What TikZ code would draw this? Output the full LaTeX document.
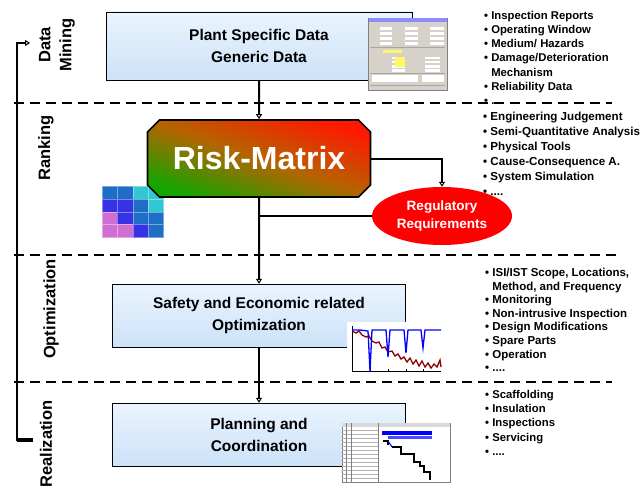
\documentclass[tikz,border=0pt]{standalone}
\usepackage{fontspec}
\setmainfont{Liberation Sans}
\usetikzlibrary{shapes, arrows.meta}

\definecolor{boxtop}{RGB}{234,244,254}
\definecolor{boxbottom}{RGB}{204,226,248}
\definecolor{riskgreen}{RGB}{20,165,0}
\definecolor{riskbrown}{RGB}{180,100,0}
\definecolor{riskred}{RGB}{255,25,0}
\definecolor{cellblue}{RGB}{30,110,200}
\definecolor{cellviolet}{RGB}{55,50,230}
\definecolor{cellcyan}{RGB}{50,200,210}
\definecolor{cellpink}{RGB}{210,110,210}
\definecolor{wingrey}{RGB}{214,210,202}
\definecolor{trendred}{RGB}{140,0,0}

\begin{document}
\begin{tikzpicture}[x=1pt, y=-1pt]

\tikzstyle{stage} = [rectangle, draw, thin, text centered, align=center, top color=boxtop, bottom color=boxbottom, font=\fontsize{15.5}{22}\selectfont\bfseries]
\tikzstyle{phase} = [rotate=90, align=center, inner sep=0pt, font=\fontsize{16.5}{21}\selectfont\bfseries]
\tikzstyle{bullets} = [anchor=north west, inner sep=0pt, align=left]
\tikzstyle{wire} = [line width=2pt]
\tikzstyle{arrow} = [line width=2pt, -{Triangle[open, length=5pt, width=6pt, line width=1pt]}]
\tikzstyle{divider} = [line width=1.6pt, dash pattern=on 10pt off 6pt]

\useasboundingbox [fill=white] (0,0) rectangle (642,487);

% small risk matrix, partly hidden behind the main box
\foreach \row/\cells in {0/{cellblue,cellblue,cellcyan,cellcyan}, 1/{cellviolet,cellviolet,cellblue,cellcyan}, 2/{cellpink,cellviolet,cellblue,cellblue}, 3/{cellpink,cellpink,cellviolet,cellblue}}
  \foreach \c [count=\k from 0] in \cells
    \filldraw [fill=\c, draw=\c!60!white, very thin] (102+\k*15.3, 186+\row*12.8) rectangle ++(15.3,12.8);

% phase labels and the loop bracket
\node (mining) [phase] at (57,45) {Data\\Mining};
\node (ranking) [phase] at (46,148) {Ranking};
\node (optim) [phase] at (51,309) {Optimization};
\node (realiz) [phase] at (46,444) {Realization};

\coordinate (loopstart) at (33,440);
\coordinate (loopend) at (30,43);
\draw [line width=2.5pt, -{Triangle[open, length=5pt, width=6pt, line width=1pt]}] (loopstart) -- (17,440) -- (17,43) -- (loopend);
\draw [line width=4pt] (17,440) -- (loopstart);

% bullet lists
\node (datalist) [bullets, font=\fontsize{11.3}{14.2}\selectfont\bfseries] at (484,11) {• Inspection Reports\\• Operating Window\\• Medium/ Hazards\\• Damage/Deterioration\\\phantom{• }Mechanism\\• Reliability Data\\• ....};
\node (ranklist) [bullets, font=\fontsize{11.6}{15}\selectfont\bfseries] at (483,112) {• Engineering Judgement\\• Semi-Quantitative Analysis\\• Physical Tools\\• Cause-Consequence A.\\• System Simulation\\• ....};
\node (optlist) [bullets, font=\fontsize{11.5}{13.6}\selectfont\bfseries] at (485,268) {• ISI/IST Scope, Locations,\\\phantom{• }Method, and Frequency\\• Monitoring\\• Non-intrusive Inspection\\• Design Modifications\\• Spare Parts\\• Operation\\• ....};
\node (reallist) [bullets, font=\fontsize{11.3}{14.3}\selectfont\bfseries] at (485,390) {• Scaffolding\\• Insulation\\• Inspections\\• Servicing\\• ....};

\draw [divider] (14,103) -- (612,103);
\draw [divider] (14,255) -- (617,255);
\draw [divider] (14,382) -- (612,382);

% main flow
\node (plant) [stage, minimum width=306, minimum height=68] at (259,46) {Plant Specific Data\\Generic Data};

\node (risk) [chamfered rectangle, chamfered rectangle xsep=6pt, chamfered rectangle ysep=6pt, draw, line width=1.6pt, minimum width=223, minimum height=77, top color=riskred, bottom color=riskgreen, middle color=riskbrown, shading angle=-19, text=white, font=\fontsize{32}{36}\selectfont\bfseries] at (259,158.5) {Risk-Matrix};

\node (reg) [ellipse, fill=red, text=white, inner sep=1pt, minimum width=140, minimum height=58, align=center, font=\fontsize{13.5}{18}\selectfont\bfseries] at (442,216) {Regulatory\\Requirements};

\node (safety) [stage, minimum width=293, minimum height=63] at (259,315.5) {Safety and Economic related\\Optimization};

\node (planning) [stage, minimum width=293, minimum height=63] at (259,434.5) {Planning and\\Coordination};

\draw [arrow] (plant) -- (risk);
\draw [arrow] (risk.east) -| (reg.north);
\draw [wire] (reg.west) -- (reg.west -| risk.south);
\draw [arrow] (risk) -- (safety);
\draw [arrow] (safety) -- (planning);

% data form window
\filldraw [fill=wingrey, draw=gray] (368,18) rectangle (447,90);
\fill [blue!45!white] (368.5,18.5) rectangle (446.5,22);
\foreach \y in {27,32,37,42} {
  \fill [white] (380,\y) rectangle (392,\y+3);
  \fill [white] (405,\y) rectangle (418,\y+3);
  \fill [white] (430,\y) rectangle (444,\y+3);
}
\fill [yellow!60!white] (383,50) rectangle (402,53);
\foreach \y in {57,61,65,69} {
  \fill [white] (392,\y) rectangle (405,\y+2.5);
  \fill [white] (425,\y) rectangle (440,\y+2.5);
}
\fill [yellow!60!white] (395,57) rectangle (405,67);
\fill [white] (372,75) rectangle (418,82);
\fill [white] (422,75) rectangle (444,82);
\draw [gray!70, very thin] (370,47) -- (445,47) (370,73) -- (445,73) (370,85) -- (445,85);

% trend chart
\fill [white] (347,322) rectangle (443,374);
\draw [black, thin] (352,326) -- (352,371) -- (441,371);
\foreach \x in {370,388,406,423} \draw [black, very thin] (\x,371) -- (\x,369);
\draw [trendred, line width=1.3pt] plot coordinates {(352,331) (356,333) (359,331) (362,335) (366,337) (369,336) (372,341) (376,343) (379,342) (382,348) (385,347) (388,352) (392,351) (395,356) (398,354) (401,359) (404,357) (407,362) (410,358) (413,364) (416,360) (419,366) (422,361) (425,367) (428,363) (431,368) (434,364) (437,367) (440,360) (441,367)};
\draw [blue, line width=1.3pt] plot coordinates {(352,330) (360,330) (368,331) (370,371) (372,330) (386,330) (388,357) (390,330) (404,330) (406,353) (408,330) (421,330) (423,348) (425,330) (441,330)};

% project schedule
\filldraw [fill=white, draw=gray] (342,423) rectangle (450,482);
\fill [gray!30] (342,423) rectangle (450,427);
\foreach \y in {430,434,...,478} \draw [gray!60, very thin] (342,\y) -- (378,\y);
\draw [gray, very thin] (346,423) -- (346,482) (351,423) -- (351,482) (378,423) -- (378,482);
\fill [blue] (382,431) rectangle (432,434.5);
\fill [blue!70!white] (388,436) rectangle (432,439);
\draw [line width=1.5pt] (383,441) -- (388,441) -- (388,445) (392,447) -- (401,447) -- (401,454) -- (414,454) -- (414,462) -- (420,462) -- (420,466) -- (424,466) -- (424,472) -- (430,472) -- (430,480);
\draw [blue, line width=1pt] (388,441) -- (392,447);

\end{tikzpicture}
\end{document}
